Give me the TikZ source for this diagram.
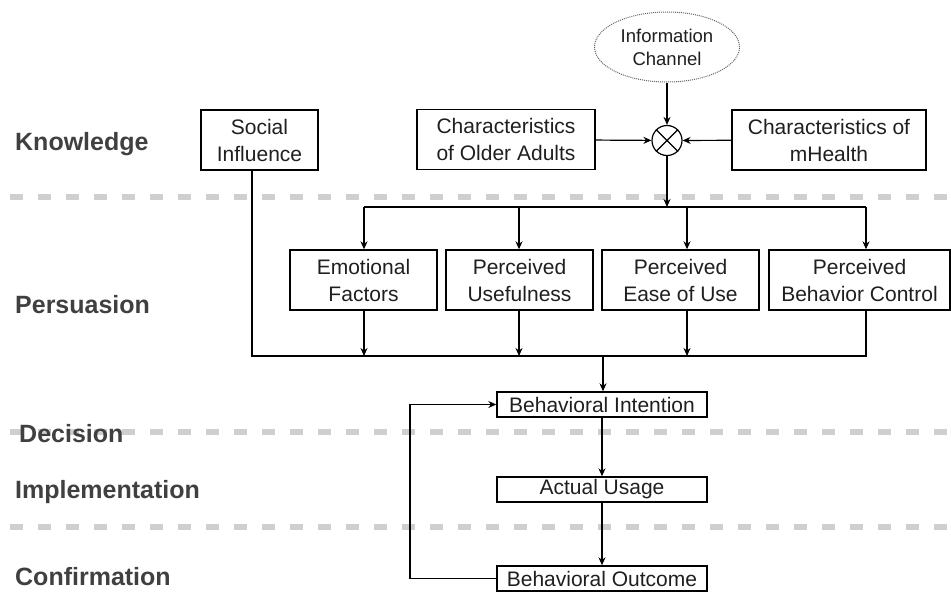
\documentclass[tikz,border=0pt]{standalone}
\usepackage{fontspec}
\setmainfont{Liberation Sans}
\usetikzlibrary{arrows.meta,shapes.geometric}
\definecolor{stagegray}{HTML}{404040}
\definecolor{sepgray}{HTML}{CFCFCF}
\tikzset{
  box/.style={draw, line width=1.4pt, align=center, inner sep=0pt,
    font=\fontsize{21}{27}\selectfont, text=black!88},
  stage/.style={anchor=base west, inner sep=0pt, text=stagegray,
    font=\fontsize{25}{30}\selectfont\bfseries},
  sepline/.style={draw=sepgray, line width=6.5pt, dash pattern=on 13pt off 15pt},
  wire/.style={line width=1.2pt},
  flow/.style={wire, -{Stealth[length=8pt,width=7pt]}}
}

\begin{document}
\begin{tikzpicture}[x=1pt,y=-1pt]
    \useasboundingbox (0,0) rectangle (951,595);

    % stage separators
    \draw[sepline] (10,197) -- (951,197);
    \draw[sepline] (10,432) -- (951,432);
    \draw[sepline] (10,527) -- (951,527);

    % stage names
    \node[stage] (knowledge) at (15,150) {Knowledge};
    \node[stage] (persuasion) at (15,313) {Persuasion};
    \node[stage] (decision) at (19,442) {Decision};
    \node[stage] (implementation) at (15,498) {Implementation};
    \node[stage] (confirmation) at (15,585) {Confirmation};

    % knowledge
    \node[draw=black!60, densely dotted, line width=1pt, ellipse, fill=white,
      minimum width=145, minimum height=70, inner sep=0pt, align=center,
      font=\fontsize{18.5}{23}\selectfont, text=black!88] (channel) at (667,47) {Information\\Channel};
    \node[draw, circle, line width=1.2pt, minimum size=30, inner sep=0pt] (combine) at (667,140.5) {};
    \draw[line width=1.2pt] (combine.45) -- (combine.225) (combine.135) -- (combine.315);
    \node[box, minimum width=117, minimum height=60] (social) at (259.5,140) {Social\\Influence};
    \node[box, minimum width=178, minimum height=60] (older) at (506,139.5) {Characteristics\\of Older Adults};
    \node[box, minimum width=194, minimum height=60] (mhealth) at (829,140) {Characteristics of\\mHealth};

    % persuasion
    \node[box, minimum width=147, minimum height=60] (emotional) at (363.5,280) {Emotional\\Factors};
    \node[box, minimum width=147, minimum height=60] (useful) at (519.5,280) {Perceived\\Usefulness};
    \node[box, minimum width=157, minimum height=60] (ease) at (680.5,280) {Perceived\\Ease of Use};
    \node[box, minimum width=181, minimum height=60] (control) at (859.5,280) {Perceived\\Behavior Control};

    % decision, implementation, confirmation
    \node[box, minimum width=210, minimum height=25] (intention) at (602,404.5) {Behavioral Intention};
    \node[box, minimum width=210, minimum height=25] (usage) at (602,489.5) {Actual Usage};
    \node[box, minimum width=210, minimum height=25] (outcome) at (602,578.5) {Behavioral Outcome};

    \coordinate (split) at (667,207);
    \coordinate (t1) at (364,207);
    \coordinate (t2) at (519,207);
    \coordinate (t3) at (687,207);
    \coordinate (t4) at (866,207);
    \coordinate (sdrop) at (252,356);
    \coordinate (d1) at (364,356);
    \coordinate (d2) at (519,356);
    \coordinate (d3) at (687,356);
    \coordinate (d4) at (866,356);
    \coordinate (merge) at (603,356);
    \coordinate (loop) at (410,0);

    \draw[flow] (channel) -- (combine);
    \draw[flow] (older) -- (combine);
    \draw[flow] (mhealth) -- (combine);
    \draw[flow] (combine) -- (split);

    \draw[wire] (t1) -- (t4);
    \draw[flow] (t1) -- (t1 |- emotional.north);
    \draw[flow] (t2) -- (t2 |- useful.north);
    \draw[flow] (t3) -- (t3 |- ease.north);
    \draw[flow] (t4) -- (t4 |- control.north);

    \draw[wire] (sdrop |- social.south) -- (sdrop) -- (d4) -- (d4 |- control.south);
    \draw[flow] (d1 |- emotional.south) -- (d1);
    \draw[flow] (d2 |- useful.south) -- (d2);
    \draw[flow] (d3 |- ease.south) -- (d3);
    \draw[flow] (merge) -- (merge |- intention.north);

    \draw[flow] (intention) -- (usage);
    \draw[flow] (usage) -- (outcome);
    \draw[flow] (outcome.west) -- (loop |- outcome.west) -- (loop |- intention.west) -- (intention.west);
\end{tikzpicture}
\end{document}
